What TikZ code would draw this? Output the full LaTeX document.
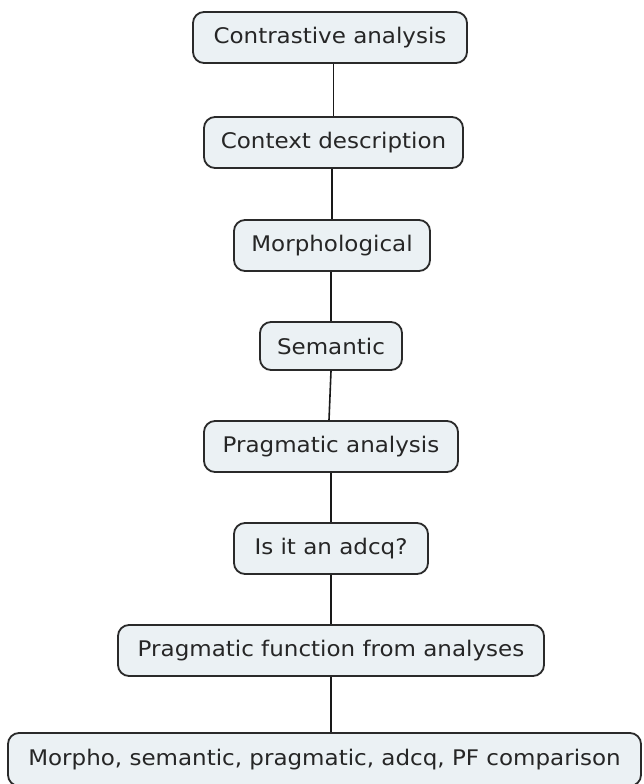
\documentclass[tikz,border=0pt]{standalone}
\usepackage{fontspec}
\setmainfont[FakeStretch=1.07]{DejaVu Sans}
\definecolor{boxfill}{HTML}{EBF1F4}
\definecolor{boxline}{HTML}{2A2A2A}
\begin{document}
\begin{tikzpicture}[x=1pt,y=-1pt,
  box/.style={draw=boxline, fill=boxfill, line width=1.8pt, rounded corners=11pt,
    inner sep=0pt, font=\fontsize{21.5}{25}\selectfont, text=black!85},
  link/.style={draw=black!90, line width=1.6pt}]
\useasboundingbox (0,0) rectangle (643,784);
\node[box, minimum width=274pt, minimum height=51pt] (n1) at (330,37.5) {Contrastive analysis};
\node[box, minimum width=259pt, minimum height=51pt] (n2) at (333.5,142.5) {Context description};
\node[box, minimum width=196pt, minimum height=51pt] (n3) at (332,245.5) {Morphological};
\node[box, minimum width=142pt, minimum height=48pt] (n4) at (331,346) {Semantic};
\node[box, minimum width=254pt, minimum height=51pt] (n5) at (331,446.5) {Pragmatic analysis};
\node[box, minimum width=194pt, minimum height=51pt] (n6) at (331,548.5) {Is it an adcq?};
\node[box, minimum width=426pt, minimum height=51pt] (n7) at (331,650.5) {Pragmatic function from analyses};
\node[box, minimum width=633pt, minimum height=53pt] (n8) at (324.5,759.5) {Morpho, semantic, pragmatic, adcq, PF comparison};
\draw[link] (n1.south -| n2.north) -- (n2.north);
\draw[link] (n2.south -| n3.north) -- (n3.north);
\draw[link] (n3.south -| n4.north) -- (n4.north);
\draw[link] (n4.south) -- ([xshift=-2pt]n5.north);
\draw[link] (n5.south) -- (n6.north);
\draw[link] (n6.south) -- (n7.north);
\draw[link] (n7.south) -- (n7.south |- n8.north);
\end{tikzpicture}
\end{document}
